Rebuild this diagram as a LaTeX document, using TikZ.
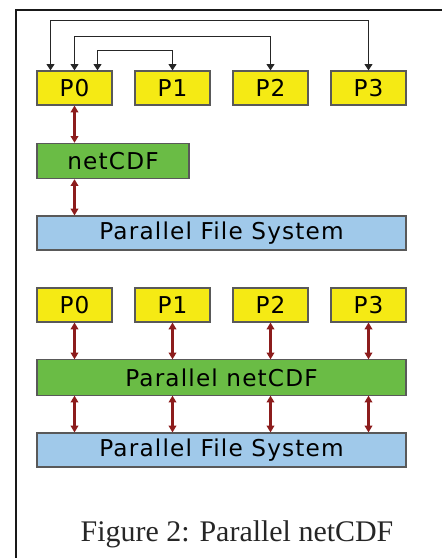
\documentclass[tikz,border=0pt]{standalone}
\usepackage{fontspec}
\usepackage{tikz}
\usetikzlibrary{positioning,arrows.meta,calc}
\usepackage{xcolor}
\newfontfamily\boxfont[LetterSpace=5]{DejaVu Sans}
\newfontfamily\capfont{Liberation Serif}
\definecolor{procyellow}{RGB}{245,234,20}
\definecolor{netgreen}{RGB}{106,188,69}
\definecolor{fsblue}{RGB}{160,201,234}
\definecolor{linkred}{RGB}{140,28,28}

\begin{document}
\begin{tikzpicture}[
    proc/.style={draw=black!65,line width=0.8pt,fill=procyellow,minimum width=1.875cm,minimum height=0.85cm,inner sep=0pt,anchor=center,font=\boxfont\fontsize{16.5}{19}\selectfont},
    lib/.style={proc,fill=netgreen,minimum height=0.88cm},
    fs/.style={proc,fill=fsblue,minimum width=9.225cm},
    link/.style={{Triangle[length=1.7mm,width=1.9mm]}-{Triangle[length=1.7mm,width=1.9mm]},line width=1.5pt,linkred},
    msg/.style={{Triangle[length=1.6mm,width=2mm]}-{Triangle[length=1.6mm,width=2mm]},line width=0.7pt,black!85},
]
\useasboundingbox (0,0) rectangle (11.05,13.95);
\draw[line width=1.6pt,black!90] (0.4,0) |- (11.05,13.7);
% serial netCDF
\node[proc] (p0t) at (1.8625,11.75) {P0};
\node[proc] (p1t) at (4.3125,11.75) {P1};
\node[proc] (p2t) at (6.7625,11.75) {P2};
\node[proc] (p3t) at (9.2125,11.75) {P3};
\draw[msg] ([xshift=-0.6cm]p0t.north) -- ++(0,1.25) -| (p3t.north);
\draw[msg] (p0t.north) -- ++(0,0.85) -| (p2t.north);
\draw[msg] ([xshift=0.575cm]p0t.north) -- ++(0,0.5) -| (p1t.north);
\node[lib,minimum width=3.8cm] (netcdf) at (2.825,9.925) {netCDF};
\node[fs] (pfs1) at (5.5375,8.125) {Parallel File System};
\draw[link] (p0t.south) -- (netcdf.north -| p0t.south);
\draw[link] (netcdf.south -| p0t.south) -- (pfs1.north -| p0t.south);
% parallel netCDF
\node[proc] (p0b) at (1.8625,6.325) {P0};
\node[proc] (p1b) at (4.3125,6.325) {P1};
\node[proc] (p2b) at (6.7625,6.325) {P2};
\node[proc] (p3b) at (9.2125,6.325) {P3};
\node[lib,minimum width=9.225cm] (pnetcdf) at (5.5375,4.5125) {Parallel netCDF};
\node[fs] (pfs2) at (5.5375,2.7) {Parallel File System};
\foreach \p in {p0b,p1b,p2b,p3b}{
  \draw[link] (\p.south) -- (pnetcdf.north -| \p.south);
  \draw[link] (pnetcdf.south -| \p.south) -- (pfs2.north -| \p.south);
}
\node[anchor=base,font=\capfont\fontsize{21.3}{25}\selectfont,text=black!85] (caption) at (5.925,0.4) {Figure 2: Parallel netCDF};
\end{tikzpicture}
\end{document}
